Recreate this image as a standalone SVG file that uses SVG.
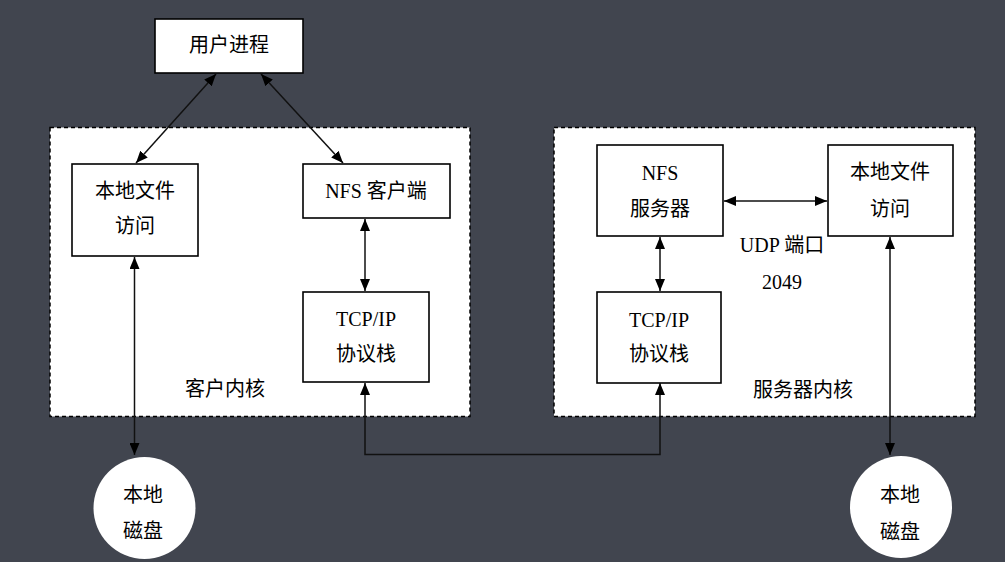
<svg xmlns="http://www.w3.org/2000/svg" width="1005" height="562" viewBox="0 0 1005 562">
<style>
.box{fill:#fff;stroke:#000;stroke-width:1.6}
.kern{fill:#fff;stroke:#000;stroke-width:1.5;stroke-dasharray:4 3}
.disk{fill:#fff;stroke:none}
.t{font-family:"Liberation Serif","Noto Sans CJK SC",serif;font-size:20px;fill:#000;text-anchor:middle}
.c{fill:none;stroke:#111;stroke-width:1.5}
</style>
<defs>
<marker id="ah" viewBox="0 0 12 10" refX="12" refY="5" markerWidth="12" markerHeight="10" markerUnits="userSpaceOnUse" orient="auto-start-reverse">
<path d="M0,0 L12,5 L0,10 z" fill="#000"/>
</marker>
</defs>
<rect width="1005" height="562" fill="#41454f"/>
<g id="client-kernel">
<rect class="kern" x="50" y="127.5" width="420" height="289"/>
<text class="t" x="225" y="396">客户内核</text>
</g>
<g id="server-kernel">
<rect class="kern" x="554" y="127.5" width="421" height="289"/>
<text class="t" x="803" y="397">服务器内核</text>
</g>
<g id="user-process">
<rect class="box" x="155" y="19" width="148" height="54"/>
<text class="t" x="229" y="52">用户进程</text>
</g>
<g id="client-local-file">
<rect class="box" x="72" y="164" width="126" height="92"/>
<text class="t" x="135" y="198">本地文件</text>
<text class="t" x="135" y="233">访问</text>
</g>
<g id="nfs-client">
<rect class="box" x="303" y="164" width="147" height="54"/>
<text class="t" x="376" y="198">NFS 客户端</text>
</g>
<g id="client-tcpip">
<rect class="box" x="303" y="292" width="126" height="90"/>
<text class="t" x="366" y="326">TCP/IP</text>
<text class="t" x="366" y="361">协议栈</text>
</g>
<g id="nfs-server">
<rect class="box" x="597" y="145" width="126" height="91"/>
<text class="t" x="660" y="180">NFS</text>
<text class="t" x="660" y="216">服务器</text>
</g>
<g id="server-local-file">
<rect class="box" x="828" y="145" width="125" height="91"/>
<text class="t" x="890" y="179">本地文件</text>
<text class="t" x="890" y="216">访问</text>
</g>
<g id="server-tcpip">
<rect class="box" x="597" y="292" width="124" height="91"/>
<text class="t" x="659" y="327">TCP/IP</text>
<text class="t" x="659" y="361">协议栈</text>
</g>
<g id="udp-label">
<text class="t" x="782" y="252">UDP 端口</text>
<text class="t" x="782" y="289">2049</text>
</g>
<g id="client-disk">
<circle class="disk" cx="144.5" cy="508" r="51"/>
<text class="t" x="143" y="502">本地</text>
<text class="t" x="143" y="538">磁盘</text>
</g>
<g id="server-disk">
<circle class="disk" cx="901" cy="507" r="51"/>
<text class="t" x="900" y="502">本地</text>
<text class="t" x="900" y="539">磁盘</text>
</g>
<g id="connectors">
<line class="c" x1="216" y1="74" x2="136" y2="163" marker-start="url(#ah)" marker-end="url(#ah)"/>
<line class="c" x1="261" y1="74" x2="343" y2="163" marker-start="url(#ah)" marker-end="url(#ah)"/>
<line class="c" x1="365" y1="219" x2="365" y2="291" marker-start="url(#ah)" marker-end="url(#ah)"/>
<line class="c" x1="134.5" y1="257" x2="134.5" y2="455" marker-start="url(#ah)" marker-end="url(#ah)"/>
<polyline class="c" points="365,383 365,454.5 660,454.5 660,383" marker-start="url(#ah)" marker-end="url(#ah)"/>
<line class="c" x1="660" y1="237" x2="660" y2="291" marker-start="url(#ah)" marker-end="url(#ah)"/>
<line class="c" x1="724" y1="201" x2="827" y2="201" marker-start="url(#ah)" marker-end="url(#ah)"/>
<line class="c" x1="890" y1="237" x2="890" y2="455" marker-start="url(#ah)" marker-end="url(#ah)"/>
</g>
</svg>
